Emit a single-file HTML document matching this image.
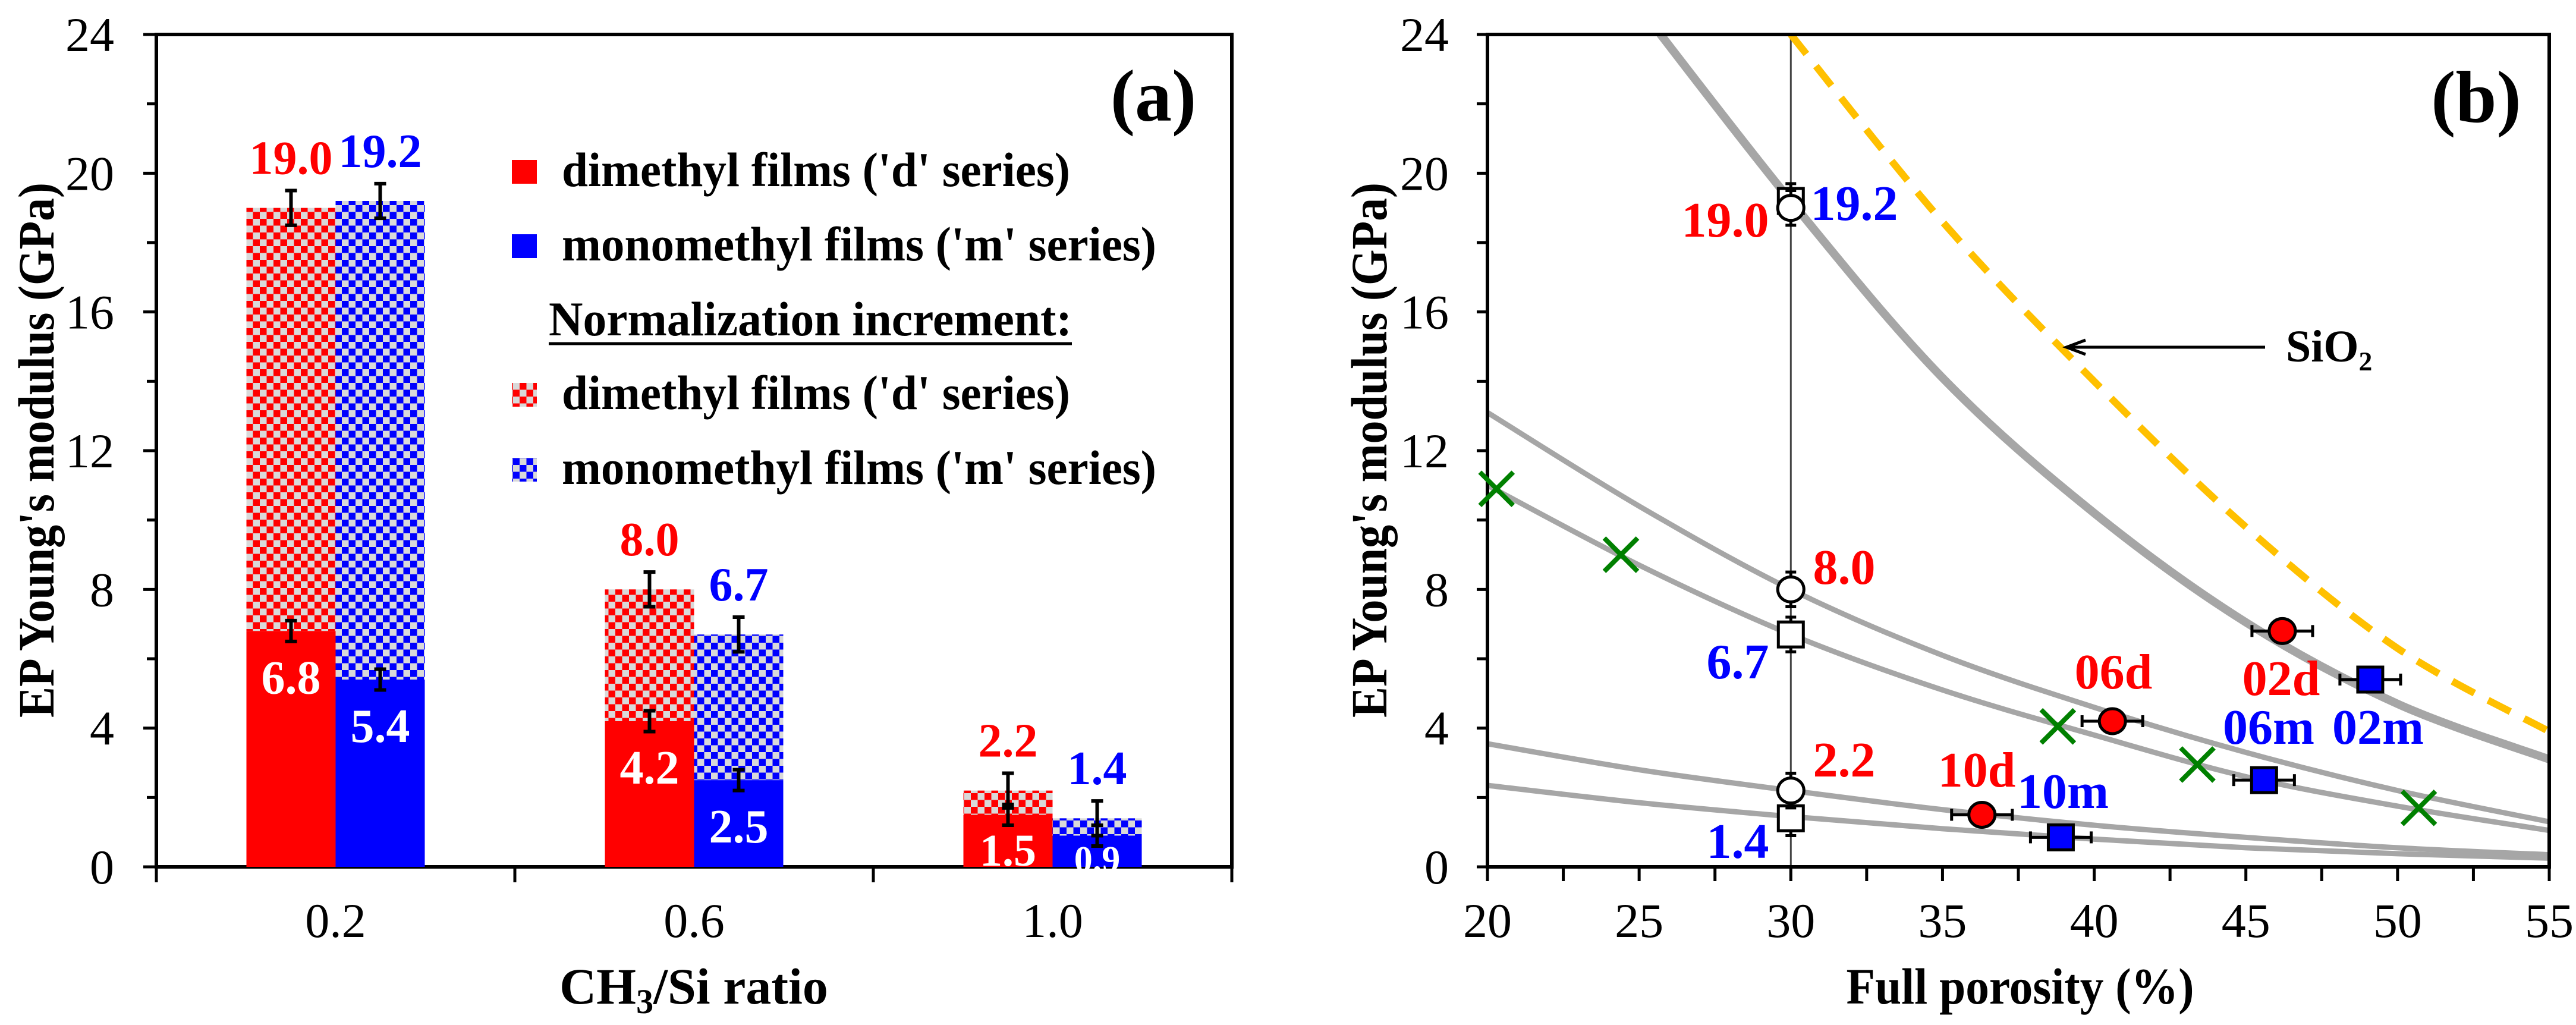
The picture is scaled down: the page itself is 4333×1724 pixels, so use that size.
<!DOCTYPE html>
<html><head><meta charset="utf-8">
<style>
html,body{margin:0;padding:0;background:#fff;}
svg, svg text{font-family:"Liberation Serif","Times New Roman",serif;}
svg{display:block;}
</style></head>
<body>
<svg id="fig" width="4333" height="1724" viewBox="0 0 4333 1724" xmlns="http://www.w3.org/2000/svg" font-family="Liberation Serif, Times New Roman, serif">
<defs>
<pattern id="chkRed" width="23" height="23" patternUnits="userSpaceOnUse">
<rect width="23" height="23" fill="#d9d9d9"/><rect width="11.5" height="11.5" fill="#ff0000"/><rect x="11.5" y="11.5" width="11.5" height="11.5" fill="#ff0000"/>
</pattern>
<pattern id="chkBlue" width="23" height="23" patternUnits="userSpaceOnUse">
<rect width="23" height="23" fill="#d9d9d9"/><rect width="11.5" height="11.5" fill="#0000ff"/><rect x="11.5" y="11.5" width="11.5" height="11.5" fill="#0000ff"/>
</pattern>
</defs>
<g id="panelA"></g>
<g id="panelB"></g>
</svg>
<script>
// ---------- Panel (a) data ----------
const catLabels = ["0.2", "0.6", "1.0"];
const dTotal = [19.0, 8.0, 2.2];
const dBase = [6.8, 4.2, 1.5];
const mTotal = [19.2, 6.7, 1.4];
const mBase = [5.4, 2.5, 0.9];
const dTotalErr = [0.5, 0.5, 0.5];
const mTotalErr = [0.5, 0.5, 0.5];
const dBaseErr = [0.3, 0.3, 0.3];
const mBaseErr = [0.3, 0.3, 0.3];
const yTicksA = [0, 4, 8, 12, 16, 20, 24];

// ---------- Panel (b) data ----------
const xTicksB = [20, 25, 30, 35, 40, 45, 50, 55];
const yTicksB = [0, 4, 8, 12, 16, 20, 24];
const curveX = [20, 25, 30, 35, 40, 45, 50, 55];
const curve1Y = [null, 24.8, 19.2, 14.1, 10.2, 7.05, 4.7, 3.1];
const curve2Y = [13.1, 10.4, 8.0, 6.1, 4.6, 3.3, 2.2, 1.3];
const curve3Y = [11.0, 8.7, 6.7, 5.1, 3.8, 2.6, 1.75, 1.05];
const curve4Y = [3.55, 2.8, 2.2, 1.65, 1.2, 0.85, 0.55, 0.35];
const curve5Y = [2.35, 1.85, 1.45, 1.1, 0.8, 0.55, 0.38, 0.25];
const sio2X = [30, 35, 40, 45, 50, 55];
const sio2Y = [24, 18.6, 14.0, 9.8, 6.3, 3.9];
const crossX = [20.3, 24.4, 38.8, 43.4, 50.7];
const crossY = [10.9, 9.0, 4.05, 2.95, 1.7];
const openCircY = [19.0, 8.0, 2.2];
const openSqY = [19.2, 6.7, 1.4];
const openX = 30;
const redNames = ["10d", "06d", "02d"];
const redX = [36.3, 40.6, 46.2];
const redY = [1.5, 4.2, 6.8];
const blueNames = ["10m", "06m", "02m"];
const blueX = [38.9, 45.6, 49.1];
const blueY = [0.85, 2.5, 5.4];

const NS = "http://www.w3.org/2000/svg";
const FF = "Liberation Serif, Times New Roman, serif";
function mk(parent, tag, attrs, text) {
  const e = document.createElementNS(NS, tag);
  for (const k in attrs) e.setAttribute(k, attrs[k]);
  if (tag === 'text') e.setAttribute('font-family', FF);
  if (text !== undefined) e.textContent = text;
  parent.appendChild(e);
  return e;
}

// ================= PANEL A =================
(function () {
  const g = document.getElementById('panelA');
  const L = 263, R = 2072, T = 58, B = 1458;
  const ya = v => B - (v / 24) * (B - T);
  const catW = (R - L) / catLabels.length;
  const cx = i => L + catW * (i + 0.5);
  const barW = 150;

  let e = mk(g, 'rect', {x: L, y: T, width: R - L, height: B - T, fill: 'none', stroke: '#000', 'stroke-width': 6});
  
  

  for (let v = 0; v <= 24; v += 2) {
    const major = v % 4 === 0;
    const t = mk(g, 'line', {x1: L - (major ? 22 : 16), x2: L, y1: ya(v), y2: ya(v), stroke: '#000', 'stroke-width': 5});
    
    
  }
  yTicksA.forEach(v => {
    const t = mk(g, 'text', {x: 192, y: ya(v) + 28, 'font-size': 82, 'text-anchor': 'end'}, String(v));
    
    
  });
  for (let i = 0; i <= catLabels.length; i++) {
    const x = L + catW * i;
    const t = mk(g, 'line', {x1: x, x2: x, y1: B, y2: B + 26, stroke: '#000', 'stroke-width': 5});
    
    
  }
  catLabels.forEach((c, i) => {
    const t = mk(g, 'text', {x: cx(i), y: 1576, 'font-size': 82, 'text-anchor': 'middle'}, c);
    
    
  });

  function errBar(x, v, err) {
    const grp = mk(g, 'g', {stroke: '#000', 'stroke-width': 6});
    
    
    mk(grp, 'line', {x1: x, x2: x, y1: ya(v + err), y2: ya(v - err)});
    mk(grp, 'line', {x1: x - 10, x2: x + 10, y1: ya(v + err), y2: ya(v + err)});
    mk(grp, 'line', {x1: x - 10, x2: x + 10, y1: ya(v - err), y2: ya(v - err)});
  }

  catLabels.forEach((c, i) => {
    const xd = cx(i) - barW, xm = cx(i);
    let r = mk(g, 'rect', {x: xd, y: ya(dTotal[i]), width: barW, height: ya(dBase[i]) - ya(dTotal[i]), fill: 'url(#chkRed)'});
    
    
    r = mk(g, 'rect', {x: xd, y: ya(dBase[i]), width: barW, height: B - ya(dBase[i]), fill: '#ff0000'});
    
    
    r = mk(g, 'rect', {x: xm, y: ya(mTotal[i]), width: barW, height: ya(mBase[i]) - ya(mTotal[i]), fill: 'url(#chkBlue)'});
    
    
    r = mk(g, 'rect', {x: xm, y: ya(mBase[i]), width: barW, height: B - ya(mBase[i]), fill: '#0000ff'});
    
    

    errBar(xd + barW / 2, dTotal[i], dTotalErr[i]);
    errBar(xd + barW / 2, dBase[i], dBaseErr[i]);
    errBar(xm + barW / 2, mTotal[i], mTotalErr[i]);
    errBar(xm + barW / 2, mBase[i], mBaseErr[i]);

    let t = mk(g, 'text', {x: xd + barW / 2, y: ya(dTotal[i] + dTotalErr[i]) - 28, 'font-size': 80, 'font-weight': 'bold', fill: '#ff0000', 'text-anchor': 'middle'}, dTotal[i].toFixed(1));
    
    
    t = mk(g, 'text', {x: xm + barW / 2, y: ya(mTotal[i] + mTotalErr[i]) - 28, 'font-size': 80, 'font-weight': 'bold', fill: '#0000ff', 'text-anchor': 'middle'}, mTotal[i].toFixed(1));
    
    
    const fsD = dBase[i] < 2 ? 76 : 80, fsM = mBase[i] < 2 ? 62 : 80;
    t = mk(g, 'text', {x: xd + barW / 2, y: Math.min(ya(dBase[i]) + 105, B - 2), 'font-size': fsD, 'font-weight': 'bold', fill: '#fff', 'text-anchor': 'middle'}, dBase[i].toFixed(1));
    
    
    t = mk(g, 'text', {x: xm + barW / 2, y: Math.min(ya(mBase[i]) + 105, B + 8), 'font-size': fsM, 'font-weight': 'bold', fill: '#fff', 'text-anchor': 'middle'}, mBase[i].toFixed(1));
    
    
  });

  const lg = mk(g, 'g', {});
  
  
  const entries = [
    [289, '#ff0000', "dimethyl films ('d' series)", 855],
    [414, '#0000ff', "monomethyl films ('m' series)", 1000],
    [664, 'url(#chkRed)', "dimethyl films ('d' series)", 855],
    [790, 'url(#chkBlue)', "monomethyl films ('m' series)", 1000]
  ];
  entries.forEach(en => {
    const eg = mk(lg, 'g', {});
    
    
    mk(eg, 'rect', {x: 861, y: en[0] - 20, width: 42, height: 40, fill: en[1]});
    mk(eg, 'text', {x: 945, y: en[0] + 24, 'font-size': 82, 'font-weight': 'bold', textLength: en[3], lengthAdjust: 'spacingAndGlyphs'}, en[2]);
  });
  let t = mk(lg, 'text', {x: 923, y: 564, 'font-size': 82, 'font-weight': 'bold', textLength: 880, lengthAdjust: 'spacingAndGlyphs'}, 'Normalization increment:');
  
  
  mk(lg, 'line', {x1: 923, x2: 1803, y1: 578, y2: 578, stroke: '#000', 'stroke-width': 5});

  t = mk(g, 'text', {x: 1940, y: 203, 'font-size': 124, 'font-weight': 'bold', 'text-anchor': 'middle'}, '(a)');
  
  

  t = mk(g, 'text', {x: 0, y: 0, 'font-size': 86, 'font-weight': 'bold', 'text-anchor': 'middle', transform: 'translate(90,757) rotate(-90)', textLength: 900, lengthAdjust: 'spacingAndGlyphs'}, "EP Young's modulus (GPa)");
  
  

  t = mk(g, 'text', {x: 1167, y: 1688, 'font-size': 86, 'font-weight': 'bold', 'text-anchor': 'middle'});
  
  
  mk(t, 'tspan', {}, 'CH');
  mk(t, 'tspan', {'font-size': 58, dy: 16}, '3');
  mk(t, 'tspan', {dy: -16}, '/Si ratio');
})();

// ================= PANEL B =================
(function () {
  const g = document.getElementById('panelB');
  const L = 2502, R = 4288, T = 58, B = 1458;
  const xb = v => L + (v - 20) / 35 * (R - L);
  const yb = v => B - (v / 24) * (B - T);

  const clip = mk(document.querySelector('defs'), 'clipPath', {id: 'clipB'});
  mk(clip, 'rect', {x: L, y: T, width: R - L, height: B - T});

  for (let v = 0; v <= 24; v += 2) {
    const t = mk(g, 'line', {x1: L - 18, x2: L, y1: yb(v), y2: yb(v), stroke: '#000', 'stroke-width': 5});
    
    
  }
  yTicksB.forEach(v => {
    const t = mk(g, 'text', {x: 2437, y: yb(v) + 28, 'font-size': 82, 'text-anchor': 'end'}, String(v));
    
    
  });
  for (let v = 20; v <= 55; v += 2.5) {
    const t = mk(g, 'line', {x1: xb(v), x2: xb(v), y1: B, y2: B + 24, stroke: '#000', 'stroke-width': 5});
    
    
  }
  xTicksB.forEach(v => {
    const t = mk(g, 'text', {x: xb(v), y: 1576, 'font-size': 82, 'text-anchor': 'middle'}, String(v));
    
    
  });

  function smooth(xs, ys) {
    const p = [];
    xs.forEach((x, i) => { if (ys[i] !== null) p.push([xb(x), yb(ys[i])]); });
    let d = 'M' + p[0][0] + ',' + p[0][1];
    for (let i = 0; i < p.length - 1; i++) {
      const p0 = p[i - 1] || p[i], p1 = p[i], p2 = p[i + 1], p3 = p[i + 2] || p2;
      const c1 = [p1[0] + (p2[0] - p0[0]) / 6, p1[1] + (p2[1] - p0[1]) / 6];
      const c2 = [p2[0] - (p3[0] - p1[0]) / 6, p2[1] - (p3[1] - p1[1]) / 6];
      d += ' C' + c1 + ' ' + c2 + ' ' + p2;
    }
    return d;
  }
  const cg = mk(g, 'g', {'clip-path': 'url(#clipB)', fill: 'none'});
  
  
  let e = mk(cg, 'line', {x1: xb(openX), x2: xb(openX), y1: T, y2: B, stroke: '#444', 'stroke-width': 3});
  
  
  [[curve1Y, 14, 'curve-1'], [curve2Y, 9, 'curve-2'], [curve3Y, 9, 'curve-3'], [curve4Y, 9, 'curve-4'], [curve5Y, 9, 'curve-5']].forEach(c => {
    const pth = mk(cg, 'path', {d: smooth(curveX, c[0]), stroke: '#a6a6a6', 'stroke-width': c[1]});
    
    
  });
  e = mk(cg, 'path', {d: smooth(sio2X, sio2Y), stroke: '#ffc000', 'stroke-width': 12, 'stroke-dasharray': '42 26'});
  
  

  e = mk(g, 'rect', {x: L, y: T, width: R - L, height: B - T, fill: 'none', stroke: '#000', 'stroke-width': 6});
  
  

  crossX.forEach((x, i) => {
    const cx = xb(x), cy = yb(crossY[i]), s = 28;
    const cgp = mk(g, 'g', {stroke: '#008000', 'stroke-width': 8});
    
    
    mk(cgp, 'line', {x1: cx - s, y1: cy - s, x2: cx + s, y2: cy + s});
    mk(cgp, 'line', {x1: cx - s, y1: cy + s, x2: cx + s, y2: cy - s});
  });

  function vErr(x, y, err) {
    const eg = mk(g, 'g', {stroke: '#000', 'stroke-width': 5});
    mk(eg, 'line', {x1: x, x2: x, y1: yb(y + err), y2: yb(y - err)});
    mk(eg, 'line', {x1: x - 9, x2: x + 9, y1: yb(y + err), y2: yb(y + err)});
    mk(eg, 'line', {x1: x - 9, x2: x + 9, y1: yb(y - err), y2: yb(y - err)});
  }
  function hErr(x, y, err) {
    const eg = mk(g, 'g', {stroke: '#000', 'stroke-width': 5});
    mk(eg, 'line', {x1: xb(x - err), x2: xb(x + err), y1: yb(y), y2: yb(y)});
    mk(eg, 'line', {x1: xb(x - err), x2: xb(x - err), y1: yb(y) - 10, y2: yb(y) + 10});
    mk(eg, 'line', {x1: xb(x + err), x2: xb(x + err), y1: yb(y) - 10, y2: yb(y) + 10});
  }
  openSqY.forEach(v => {
    vErr(xb(openX), v, 0.5);
    const r = mk(g, 'rect', {x: xb(openX) - 21, y: yb(v) - 21, width: 42, height: 42, fill: '#fff', stroke: '#000', 'stroke-width': 5});
    
    
  });
  openCircY.forEach(v => {
    vErr(xb(openX), v, 0.5);
    const c = mk(g, 'ellipse', {cx: xb(openX), cy: yb(v), rx: 22, ry: 21, fill: '#fff', stroke: '#000', 'stroke-width': 5});
    
    
  });
  redX.forEach((x, i) => {
    hErr(x, redY[i], 1);
    const c = mk(g, 'ellipse', {cx: xb(x), cy: yb(redY[i]), rx: 22, ry: 21, fill: '#ff0000', stroke: '#000', 'stroke-width': 5});
    
    
  });
  blueX.forEach((x, i) => {
    hErr(x, blueY[i], 1);
    const r = mk(g, 'rect', {x: xb(x) - 21, y: yb(blueY[i]) - 21, width: 42, height: 42, fill: '#0000ff', stroke: '#000', 'stroke-width': 5});
    
    
  });

  const lbl = (txt, x, y, col, name) => {
    const t = mk(g, 'text', {x: x, y: y, 'font-size': 84, 'font-weight': 'bold', fill: col, 'text-anchor': 'middle'}, txt);
    
    
  };
  lbl(openCircY[0].toFixed(1), 2902, 398, '#ff0000', 'label-open-circle');
  lbl(openSqY[0].toFixed(1), 3119, 370, '#0000ff', 'label-open-square');
  lbl(openCircY[1].toFixed(1), 3102, 982, '#ff0000', 'label-open-circle');
  lbl(openSqY[1].toFixed(1), 2923, 1141, '#0000ff', 'label-open-square');
  lbl(openCircY[2].toFixed(1), 3102, 1306, '#ff0000', 'label-open-circle');
  lbl(openSqY[2].toFixed(1), 2923, 1443, '#0000ff', 'label-open-square');
  lbl(redNames[0], 3325, 1323, '#ff0000', 'label-10d');
  lbl(redNames[1], 3555, 1158, '#ff0000', 'label-06d');
  lbl(redNames[2], 3837, 1169, '#ff0000', 'label-02d');
  lbl(blueNames[0], 3470, 1359, '#0000ff', 'label-10m');
  lbl(blueNames[1], 3816, 1251, '#0000ff', 'label-06m');
  lbl(blueNames[2], 4000, 1251, '#0000ff', 'label-02m');

  const ag = mk(g, 'g', {stroke: '#000', 'stroke-width': 5, fill: 'none'});
  
  
  mk(ag, 'line', {x1: 3810, y1: 584, x2: 3478, y2: 584});
  mk(ag, 'path', {d: 'M3508,572 L3476,584 L3508,596'});
  let t = mk(g, 'text', {x: 3845, y: 608, 'font-size': 76, 'font-weight': 'bold'}, 'SiO₂');
  
  

  t = mk(g, 'text', {x: 4165, y: 205, 'font-size': 124, 'font-weight': 'bold', 'text-anchor': 'middle'}, '(b)');
  
  

  t = mk(g, 'text', {x: 0, y: 0, 'font-size': 86, 'font-weight': 'bold', 'text-anchor': 'middle', transform: 'translate(2332,757) rotate(-90)', textLength: 900, lengthAdjust: 'spacingAndGlyphs'}, "EP Young's modulus (GPa)");
  
  
  t = mk(g, 'text', {x: 3398, y: 1688, 'font-size': 86, 'font-weight': 'bold', 'text-anchor': 'middle', textLength: 585, lengthAdjust: 'spacingAndGlyphs'}, 'Full porosity (%)');
  
  
})();
</script>
</body></html>
